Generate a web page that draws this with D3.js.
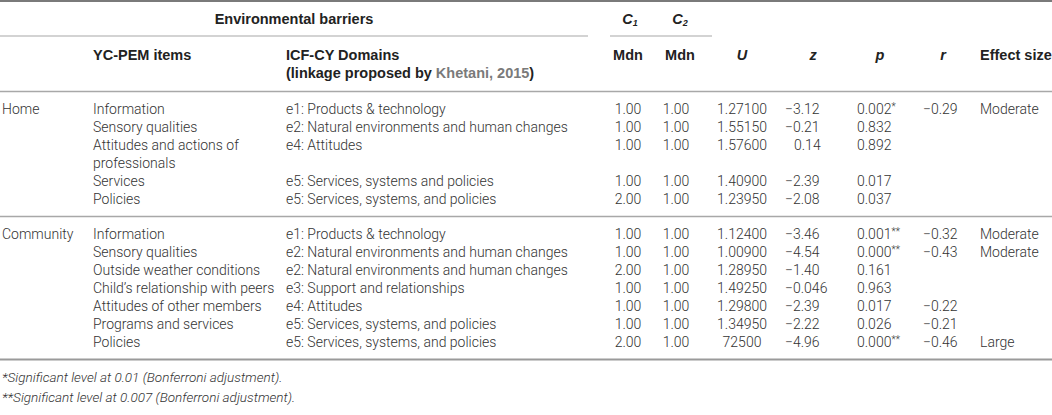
<!DOCTYPE html>
<html><head><meta charset="utf-8">
<script src="https://cdn.jsdelivr.net/npm/d3@7"></script>
<style>
html,body{margin:0;padding:0;background:#fff;}
svg{display:block;}
text{font-family:Roboto,"Liberation Sans",sans-serif;}
text.h{font-family:"Liberation Sans",Arial,sans-serif;}
</style></head>
<body><svg id="c" width="1052" height="415"></svg>
<script>
const groups = ["Home","Home","Home","Home","Home","Community","Community","Community","Community","Community","Community","Community"];
const items = [["Information"],["Sensory qualities"],["Attitudes and actions of","professionals"],["Services"],["Policies"],
  ["Information"],["Sensory qualities"],["Outside weather conditions"],["Child’s relationship with peers"],["Attitudes of other members"],["Programs and services"],["Policies"]];
const domains = ["e1: Products & technology","e2: Natural environments and human changes","e4: Attitudes","e5: Services, systems and policies","e5: Services, systems, and policies",
  "e1: Products & technology","e2: Natural environments and human changes","e2: Natural environments and human changes","e3: Support and relationships","e4: Attitudes","e5: Services, systems, and policies","e5: Services, systems, and policies"];
const c1Mdn = ["1.00","1.00","1.00","1.00","2.00","1.00","1.00","2.00","1.00","1.00","1.00","2.00"];
const c2Mdn = ["1.00","1.00","1.00","1.00","1.00","1.00","1.00","1.00","1.00","1.00","1.00","1.00"];
const uVals = ["1.27100","1.55150","1.57600","1.40900","1.23950","1.12400","1.00900","1.28950","1.49250","1.29800","1.34950","72500"];
const zVals = ["−3.12","−0.21","0.14","−2.39","−2.08","−3.46","−4.54","−1.40","−0.046","−2.39","−2.22","−4.96"];
const pVals = ["0.002*","0.832","0.892","0.017","0.037","0.001**","0.000**","0.161","0.963","0.017","0.026","0.000**"];
const rVals = ["−0.29","","","","","−0.32","−0.43","","","−0.22","−0.21","−0.46"];
const effect = ["Moderate","","","","","Moderate","Moderate","","","","","Large"];
const footnotes = ["*Significant level at 0.01 (Bonferroni adjustment).","**Significant level at 0.007 (Bonferroni adjustment)."];

const svg = d3.select("#c");
const ink = "#333";
const fs = 14;
const hfs = 14.5;

const lineStart = [];
let acc = 0;
items.forEach(l => { lineStart.push(acc); acc += l.length; });
const groupNames = Array.from(new Set(groups));
const y = d3.scaleLinear().domain([0,1]).range([109,127]);
const gOff = d3.scaleOrdinal().domain(groupNames).range([0,17]);
const rowY = i => y(lineStart[i]) + gOff(groups[i]);

function hline(x1,x2,yy,w,c){ svg.append("line").attr("x1",x1).attr("x2",x2).attr("y1",yy).attr("y2",yy).attr("stroke",c).attr("stroke-width",w); }
hline(0,1052,1,2,"#7a7a7a");
hline(0,588,36,1.2,"#a8a8a8");
hline(610,712,36,1.2,"#a8a8a8");
hline(0,1052,91.5,1.5,"#a8a8a8");
const lastHome = groups.lastIndexOf("Home");
hline(0,1052,rowY(lastHome)+17.5,1.5,"#a8a8a8");
hline(0,1052,rowY(items.length-1)+17.5,2,"#9a9a9a");

function ht(x,yy,txt,anchor,italic){
  return svg.append("text").attr("class","h").attr("x",x).attr("y",yy).attr("dy","0.35em").attr("text-anchor",anchor||"start")
    .attr("font-size",hfs).attr("font-weight",700).attr("font-style",italic?"italic":"normal").attr("fill","#222").text(txt);
}
ht(294,19,"Environmental barriers","middle");
const c1 = ht(630,19,"","middle",true); c1.append("tspan").text("C"); c1.append("tspan").attr("font-size",9).attr("dy","0.25em").text("1");
const c2 = ht(680,19,"","middle",true); c2.append("tspan").text("C"); c2.append("tspan").attr("font-size",9).attr("dy","0.25em").text("2");
ht(93,55,"YC-PEM items");
ht(286,55,"ICF-CY Domains");
const lk = ht(286,73,"(linkage proposed by ");
lk.append("tspan").attr("fill","#7a7a7a").text("Khetani, 2015");
lk.append("tspan").text(")");
ht(628,55,"Mdn","middle");
ht(680,55,"Mdn","middle");
ht(742,55,"U","middle",true);
ht(813,55,"z","middle",true);
ht(880,55,"p","middle",true);
ht(943,55,"r","middle",true);
ht(980,55,"Effect size");

function bt(x,yy,txt,anchor){
  svg.append("text").attr("x",x).attr("y",yy).attr("dy","0.35em").attr("text-anchor",anchor||"start")
    .attr("font-size",fs).attr("font-weight",300).attr("fill",ink).text(txt);
}
groups.forEach((g,i)=>{ if(i===0||groups[i-1]!==g) bt(2,rowY(i),g); });
items.forEach((lines,i)=>lines.forEach((l,k)=>bt(93,rowY(i)+k*18,l)));
domains.forEach((d,i)=>bt(286,rowY(i),d));
c1Mdn.forEach((d,i)=>bt(628,rowY(i),d,"middle"));
c2Mdn.forEach((d,i)=>bt(676,rowY(i),d,"middle"));
uVals.forEach((d,i)=>bt(742,rowY(i),d,"middle"));
zVals.forEach((d,i)=>bt(d.startsWith("−")?785:794,rowY(i),d));
pVals.forEach((d,i)=>{
  const m = d.match(/^([0-9.]+)(\**)$/);
  const t = svg.append("text").attr("x",857).attr("y",rowY(i)).attr("dy","0.35em")
    .attr("font-size",fs).attr("font-weight",300).attr("fill",ink);
  t.append("tspan").text(m[1]);
  if(m[2]) t.append("tspan").attr("font-size",10).attr("dy","-0.35em").text(m[2]);
});
rVals.forEach((d,i)=>{ if(d) bt(923,rowY(i),d); });
effect.forEach((d,i)=>{ if(d) bt(980,rowY(i),d); });

const fy = rowY(items.length-1)+35;
footnotes.forEach((f,i)=>{
  svg.append("text").attr("x",2).attr("y",fy+i*20).attr("dy","0.35em").attr("font-size",13.5)
    .attr("font-style","italic").attr("font-weight",300).attr("fill",ink).text(f);
});
</script></body></html>
